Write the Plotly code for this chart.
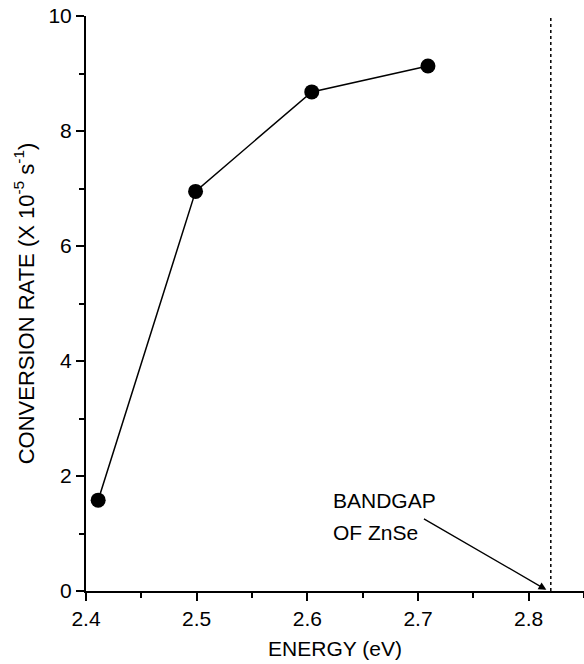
import plotly.graph_objects as go

energy = [2.411, 2.499, 2.604, 2.709]
rate = [1.58, 6.95, 8.68, 9.13]
bandgap = 2.82
x_ticks = [2.4, 2.5, 2.6, 2.7, 2.8]
y_ticks = [0, 2, 4, 6, 8, 10]

FONT = "Liberation Sans, Arial, Helvetica, sans-serif"

fig = go.Figure()
fig.add_trace(go.Scatter(
    x=energy, y=rate, mode="lines+markers",
    line=dict(color="black", width=1.5),
    marker=dict(color="black", size=15),
    showlegend=False, cliponaxis=False,
))
fig.add_trace(go.Scatter(
    x=[bandgap, bandgap], y=[0, 10], mode="lines",
    line=dict(color="black", width=1.5, dash="dot"),
    showlegend=False, hoverinfo="skip",
))

fig.add_annotation(x=2.816, y=0.02, ax=2.704, ay=1.27, axref="x", ayref="y",
                   xref="x", yref="y", text="", showarrow=True,
                   arrowhead=2, arrowsize=1.2, arrowwidth=1.3, arrowcolor="black", standoff=0)
fig.add_annotation(x=2.6211, y=1.58, xref="x", yref="y", text="BANDGAP", showarrow=False,
                   xanchor="left", yanchor="middle", font=dict(size=21, color="black", family=FONT))
fig.add_annotation(x=2.6211, y=1.01, xref="x", yref="y", text="OF ZnSe", showarrow=False,
                   xanchor="left", yanchor="middle", font=dict(size=21, color="black", family=FONT))

axis_common = dict(
    showgrid=False, zeroline=False, showline=True, linecolor="black", linewidth=2,
    ticks="outside", ticklen=8, tickwidth=2, tickcolor="black",
    tickfont=dict(size=21, color="black", family=FONT),
)

fig.update_xaxes(
    range=[2.4, 2.85], tickvals=x_ticks, ticktext=[f"{v:.1f}" for v in x_ticks],
    title=dict(text="ENERGY (eV)", font=dict(size=21, color="black", family=FONT), standoff=12),
    minor=dict(ticks="outside", ticklen=5, tickwidth=2, tickcolor="black", dtick=0.05),
    **axis_common,
)
fig.update_yaxes(
    range=[0, 10], tickvals=y_ticks, ticktext=[str(v) for v in y_ticks],
    title=dict(text="CONVERSION RATE (X 10<sup>-5</sup> s<sup>-1</sup>)",
               font=dict(size=22, color="black", family=FONT), standoff=8),
    minor=dict(ticks="outside", ticklen=5, tickwidth=2, tickcolor="black", dtick=1),
    **axis_common,
)

fig.update_layout(
    width=584, height=664,
    margin=dict(l=86, r=0, t=16, b=73),
    plot_bgcolor="white", paper_bgcolor="white",
    font=dict(family=FONT, color="black"),
)

fig.write_html("out.html")
